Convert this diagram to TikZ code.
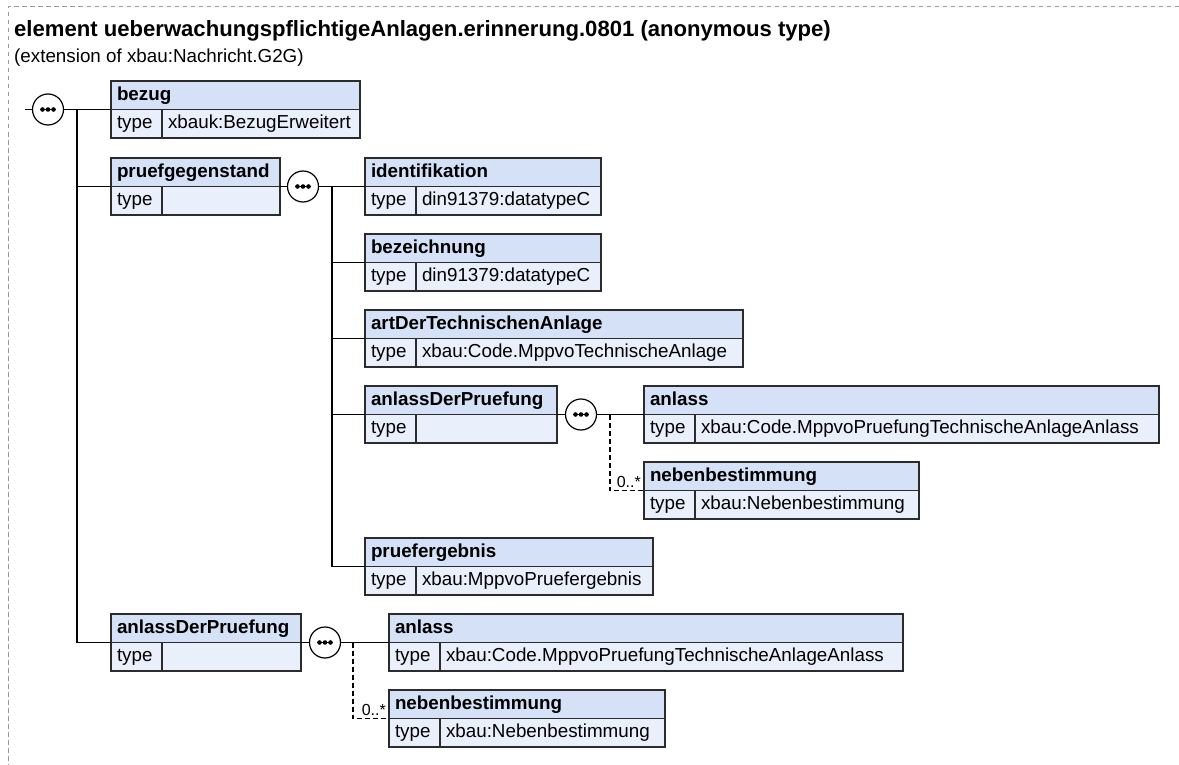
\documentclass[tikz,border=0pt]{standalone}
\usepackage{fontspec}
\setmainfont{Liberation Sans}
\usepackage{xcolor}
\usepackage{tikz}
\usetikzlibrary{positioning}
\definecolor{HdrFill}{HTML}{D5E1F7}
\definecolor{TypFill}{HTML}{E9EFFB}
\definecolor{BoxLine}{HTML}{2B2B2B}
\definecolor{FrameGray}{HTML}{9A9A9A}
\newcommand{\boxfont}{\fontsize{18.8}{22}\selectfont}

\begin{document}
\begin{tikzpicture}[
  x=1pt, y=-1pt,
  box/.style={draw=BoxLine,line width=1.2pt,anchor=north west,outer sep=0pt,
              minimum height=28.5pt,inner xsep=6pt,inner ysep=0pt,
              text height=14pt,text depth=4pt,align=left,font=\boxfont},
  hdr/.style={box,fill=HdrFill,font=\boxfont\bfseries,text width=#1-12pt},
  tlbl/.style={box,fill=TypFill,text width=39pt},
  tval/.style={box,fill=TypFill,text width=#1-63pt},
  seq/.style={circle,draw=black,fill=white,line width=1.2pt,minimum size=31pt,
              inner sep=0pt,outer sep=0pt,
              path picture={
                \draw[black,line width=1.2pt] ([xshift=-8pt]path picture bounding box.center)
                                     -- ([xshift=8pt]path picture bounding box.center);
                \fill[black] ([xshift=-5.5pt]path picture bounding box.center) circle (2.3pt);
                \fill[black] (path picture bounding box.center) circle (2.3pt);
                \fill[black] ([xshift=5.5pt]path picture bounding box.center) circle (2.3pt);
              }},
  ln/.style={draw=black,line width=1.2pt},
  opt/.style={ln,dash pattern=on 5pt off 3pt},
  mult/.style={font=\fontsize{16}{18}\selectfont,anchor=base east,inner sep=0pt},
  frame/.style={draw=FrameGray,line width=1pt,dash pattern=on 4.5pt off 3.5pt},
]
\useasboundingbox (0,0) rectangle (1179,765);
\draw[frame] (1179,7) -- (8,7) -- (8,765);

\node[anchor=base west,inner sep=0pt,font=\fontsize{22.1}{26}\selectfont\bfseries] (title)
  at (14,37) {element ueberwachungspflichtigeAnlagen.erinnerung.0801 (anonymous type)};
\node[anchor=base west,inner sep=0pt,font=\boxfont] (subtitle)
  at (14,63) {(extension of xbau:Nachricht.G2G)};

% Top level sequence and its three children.
\node[seq] (seq0) at (48,109.5) {};
\coordinate (start)  at (25,109.5);
\coordinate (trunk0) at (77,109.5);

\node[hdr=249pt] (bezug) at (111,81) {bezug};
\node[tlbl] (bezug-t) at (bezug.south west) {type};
\node[tval=249pt] (bezug-v) at (bezug-t.north east) {xbauk:BezugErweitert};

\node[hdr=169pt] (pruef) at (111,158) {pruefgegenstand};
\node[tlbl] (pruef-t) at (pruef.south west) {type};
\node[tval=169pt] (pruef-v) at (pruef-t.north east) {};

\node[hdr=190pt] (adp2) at (111,614) {anlassDerPruefung};
\node[tlbl] (adp2-t) at (adp2.south west) {type};
\node[tval=190pt] (adp2-v) at (adp2-t.north east) {};

\draw[ln] (start) -- (seq0);
\draw[ln] (seq0) -- (bezug.south west);
\draw[ln] (trunk0) |- (pruef.south west);
\draw[ln] (trunk0) |- (adp2.south west);

% Children of pruefgegenstand.
\node[seq] (seq1) at (303,186.5) {};
\coordinate (trunk1) at (332,186.5);

\node[hdr=236pt] (ident) at (365,158) {identifikation};
\node[tlbl] (ident-t) at (ident.south west) {type};
\node[tval=236pt] (ident-v) at (ident-t.north east) {din91379:datatypeC};

\node[hdr=236pt] (bezeich) at (365,234) {bezeichnung};
\node[tlbl] (bezeich-t) at (bezeich.south west) {type};
\node[tval=236pt] (bezeich-v) at (bezeich-t.north east) {din91379:datatypeC};

\node[hdr=378pt] (artanl) at (365,310) {artDerTechnischenAnlage};
\node[tlbl] (artanl-t) at (artanl.south west) {type};
\node[tval=378pt] (artanl-v) at (artanl-t.north east) {xbau:Code.MppvoTechnischeAnlage};

\node[hdr=192pt] (adp1) at (365,386) {anlassDerPruefung};
\node[tlbl] (adp1-t) at (adp1.south west) {type};
\node[tval=192pt] (adp1-v) at (adp1-t.north east) {};

\node[hdr=288pt] (pruefe) at (365,538) {pruefergebnis};
\node[tlbl] (pruefe-t) at (pruefe.south west) {type};
\node[tval=288pt] (pruefe-v) at (pruefe-t.north east) {xbau:MppvoPruefergebnis};

\draw[ln] (pruef.south east) -- (seq1);
\draw[ln] (seq1) -- (ident.south west);
\draw[ln] (trunk1) |- (bezeich.south west);
\draw[ln] (trunk1) |- (artanl.south west);
\draw[ln] (trunk1) |- (adp1.south west);
\draw[ln] (trunk1) |- (pruefe.south west);

% Children of the inner anlassDerPruefung; nebenbestimmung is optional.
\node[seq] (seq2) at (581,414.5) {};
\coordinate (opt1) at (610,414.5);

\node[hdr=515pt] (anlass1) at (644,386) {anlass};
\node[tlbl] (anlass1-t) at (anlass1.south west) {type};
\node[tval=515pt] (anlass1-v) at (anlass1-t.north east) {xbau:Code.MppvoPruefungTechnischeAnlageAnlass};

\node[hdr=275pt] (neben1) at (644,462) {nebenbestimmung};
\node[tlbl] (neben1-t) at (neben1.south west) {type};
\node[tval=275pt] (neben1-v) at (neben1-t.north east) {xbau:Nebenbestimmung};

\draw[ln] (adp1.south east) -- (seq2);
\draw[ln] (seq2) -- (anlass1.south west);
\draw[opt] (opt1) |- (neben1.south west);
\node[mult] (mult1) at (641,487) {0..*};

% Children of the outer anlassDerPruefung, same layout.
\node[seq] (seq3) at (325,642.5) {};
\coordinate (opt2) at (353,642.5);

\node[hdr=514pt] (anlass2) at (389,614) {anlass};
\node[tlbl] (anlass2-t) at (anlass2.south west) {type};
\node[tval=514pt] (anlass2-v) at (anlass2-t.north east) {xbau:Code.MppvoPruefungTechnischeAnlageAnlass};

\node[hdr=276pt] (neben2) at (389,690) {nebenbestimmung};
\node[tlbl] (neben2-t) at (neben2.south west) {type};
\node[tval=276pt] (neben2-v) at (neben2-t.north east) {xbau:Nebenbestimmung};

\draw[ln] (adp2.south east) -- (seq3);
\draw[ln] (seq3) -- (anlass2.south west);
\draw[opt] (opt2) |- (neben2.south west);
\node[mult] (mult2) at (386,715) {0..*};
\end{tikzpicture}
\end{document}
